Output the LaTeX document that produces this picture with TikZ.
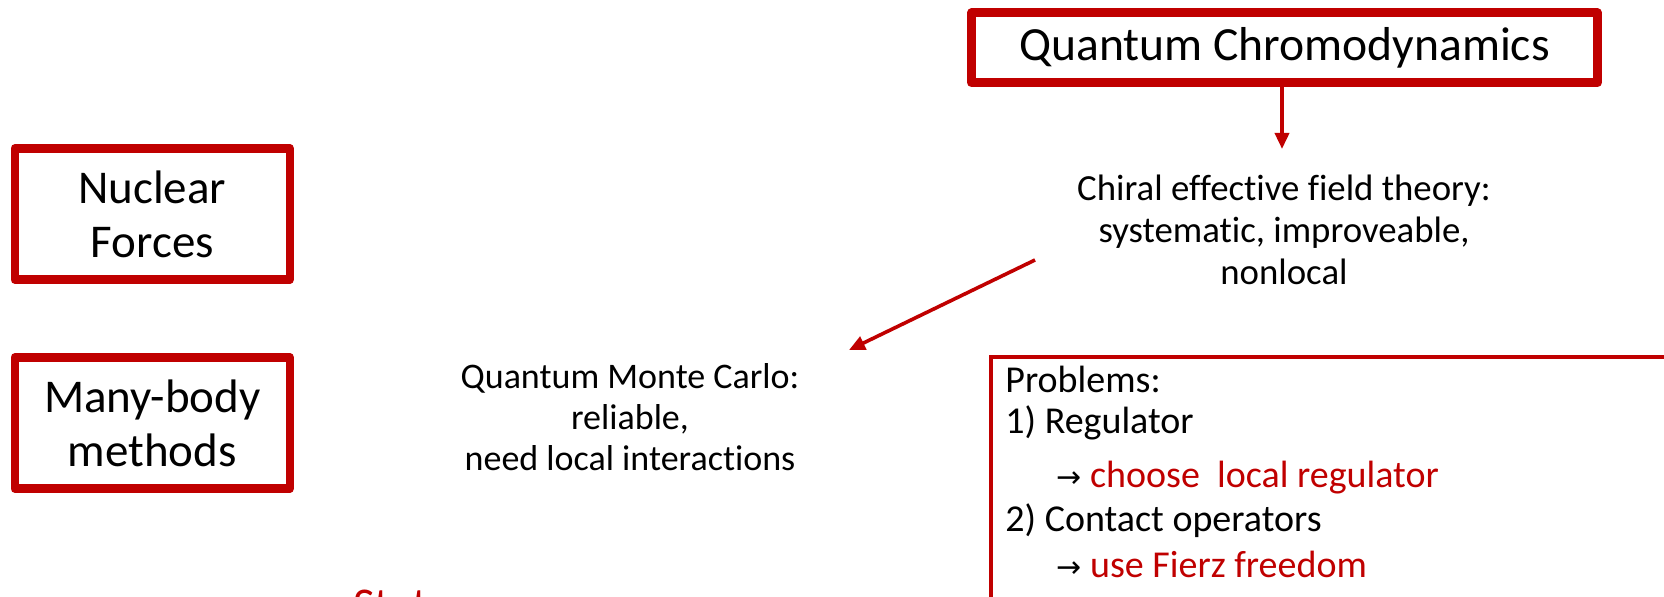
\documentclass[tikz,border=0pt]{standalone}
\usepackage{fontspec}
\setmainfont{Carlito}[Ligatures={NoCommon,NoRare,NoContextual}]
\newfontfamily\arrowfont{DejaVu Sans}
\usetikzlibrary{arrows.meta}
\definecolor{dred}{HTML}{C00000}
\begin{document}
\begin{tikzpicture}[x=0.5pt,y=-0.5pt,
  bigbox/.style={draw=dred, line width=4.25pt, line join=round, align=center,
    font=\fontsize{23.5}{27}\selectfont, inner sep=0pt},
  smalltext/.style={font=\fontsize{18}{20.5}\selectfont, align=center, inner sep=0pt},
  probline/.style={font=\fontsize{19}{21}\selectfont, anchor=west, inner sep=0pt},
  arr/.style={draw=dred, line width=1.8pt, -{Triangle[length=8pt,width=7pt]}},
]
\useasboundingbox (0,0) rectangle (1664,597);
\clip (0,0) rectangle (1664,597);

\node[bigbox, font=\fontsize{23.8}{27}\selectfont, minimum width=313pt, minimum height=35pt] (qcd) at (1284.5,47.75) {Quantum Chromodynamics};
\node[bigbox, minimum width=137.5pt, minimum height=65.7pt] (nf) at (152.3,214) {Nuclear\\Forces};
\node[bigbox, minimum width=137.5pt, minimum height=65.7pt] (mb) at (152.3,423) {Many-body\\methods};

\node[smalltext, font=\fontsize{18.4}{21}\selectfont] (chiral) at (1284,230) {Chiral effective field theory:\\systematic, improveable,\\nonlocal};
\node[smalltext] (qmc) at (630,417) {Quantum Monte Carlo:\\reliable,\\need local interactions};

\coordinate (c1) at (1282,149);
\draw[arr] (qcd.south -| c1) -- (c1);
\coordinate (d0) at (1035,260);
\coordinate (d1) at (849,350);
\draw[arr] (d0) -- (d1);

\node[draw=dred, line width=2pt, anchor=north west, minimum width=400pt, minimum height=150pt] (probs) at (989,355) {};
\node[probline] (p1) at (1005,379) {Problems:};
\node[probline] (p2) at (1005,423) {1) Regulator};
\node[probline] (p3) at (1056,478) {{\arrowfont\fontsize{15}{15}\selectfont →}\ \textcolor{dred}{choose\hspace{0.45em}local regulator}};
\node[probline] (p4) at (1005,521) {2) Contact operators};
\node[probline] (p5) at (1056,564) {{\arrowfont\fontsize{15}{15}\selectfont →}\ \textcolor{dred}{use Fierz freedom}};

\node[anchor=base west, inner sep=0pt, text=dred, font=\fontsize{23.5}{27}\selectfont] (status) at (353,621) {Status};
\end{tikzpicture}
\end{document}
